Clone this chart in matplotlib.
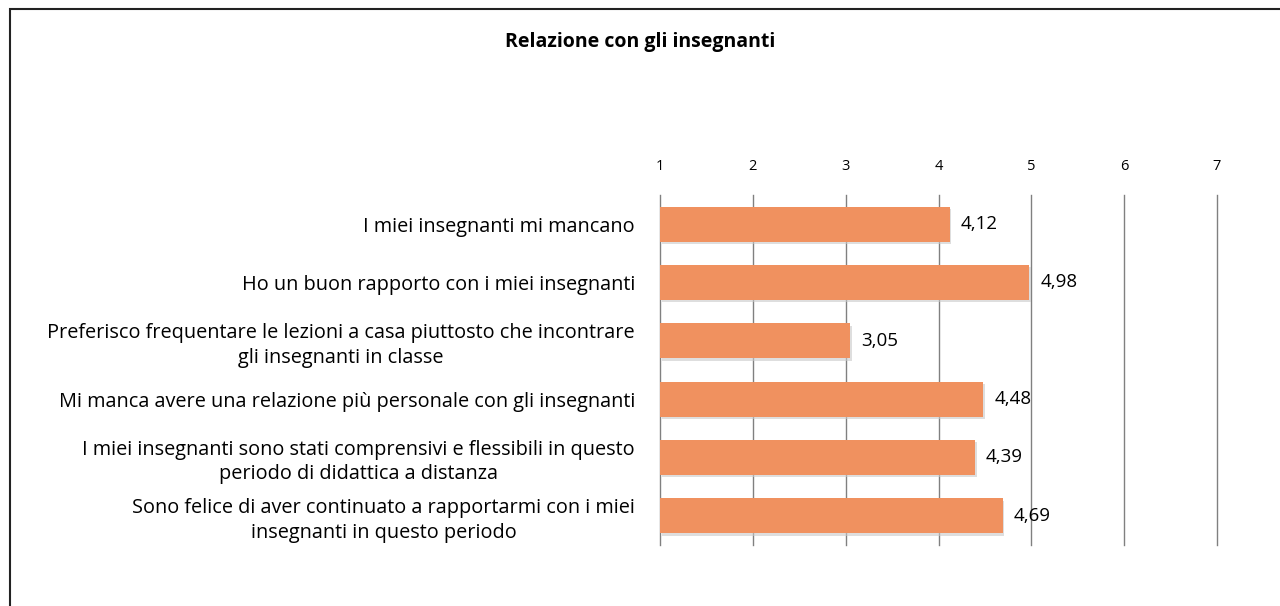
import matplotlib
matplotlib.use('Agg')
from matplotlib import pyplot as plt
from matplotlib.patches import Rectangle

# Dati del grafico
labels = [
    'I miei insegnanti mi mancano',
    'Ho un buon rapporto con i miei insegnanti',
    'Preferisco frequentare le lezioni a casa piuttosto che incontrare\ngli insegnanti in classe',
    'Mi manca avere una relazione più personale con gli insegnanti',
    'I miei insegnanti sono stati comprensivi e flessibili in questo\nperiodo di didattica a distanza',
    'Sono felice di aver continuato a rapportarmi con i miei\ninsegnanti in questo periodo',
]
values = [4.12, 4.98, 3.05, 4.48, 4.39, 4.69]
ticks = [1, 2, 3, 4, 5, 6, 7]

bar_color = '#F0915F'
plt.rcParams['font.family'] = ['Open Sans', 'DejaVu Sans']

fig = plt.figure(figsize=(12.8, 6.06), dpi=100)
ax = fig.add_axes([660 / 1280, 1 - 545 / 606, (1217 - 660) / 1280, 350 / 606])

ypos = list(range(len(values)))
widths = [v - 1 for v in values]
# ombra leggera sotto le barre
ax.barh([y + 0.04 for y in ypos], widths, left=1.02, height=0.6,
        color='#c8c8c8', alpha=0.6, zorder=2)
ax.barh(ypos, widths, left=1, height=0.6, color=bar_color, zorder=3)

for y, v in zip(ypos, values):
    ax.text(v + 0.12, y, f'{v:.2f}'.replace('.', ','), va='center', ha='left',
            fontsize=13.5, zorder=4)

ax.set_xlim(1, 7)
ax.set_ylim(len(values) - 0.5, -0.5)
ax.set_xticks(ticks)
ax.set_xticklabels([str(t) for t in ticks], fontsize=10.5)
ax.xaxis.tick_top()
ax.tick_params(axis='x', length=0, pad=15)
ax.set_yticks(ypos)
ax.set_yticklabels(labels, fontsize=14.3, multialignment='center', linespacing=1.3)
ax.tick_params(axis='y', length=0, pad=18)
ax.grid(axis='x', color='#808080', linewidth=1.0, zorder=0)
for gl in ax.get_xgridlines():
    gl.set_clip_on(False)
for s in ax.spines.values():
    s.set_visible(False)

fig.text(0.5, 1 - 42 / 606, 'Relazione con gli insegnanti', ha='center', va='center',
         fontsize=14, fontweight='bold')

fig.patches.append(Rectangle((10 / 1280, -0.1), 1.2, 1 - 9 / 606 + 0.1,
                             transform=fig.transFigure, fill=False,
                             edgecolor='#222222', linewidth=1.5))

fig.savefig('out.png', dpi=100)
